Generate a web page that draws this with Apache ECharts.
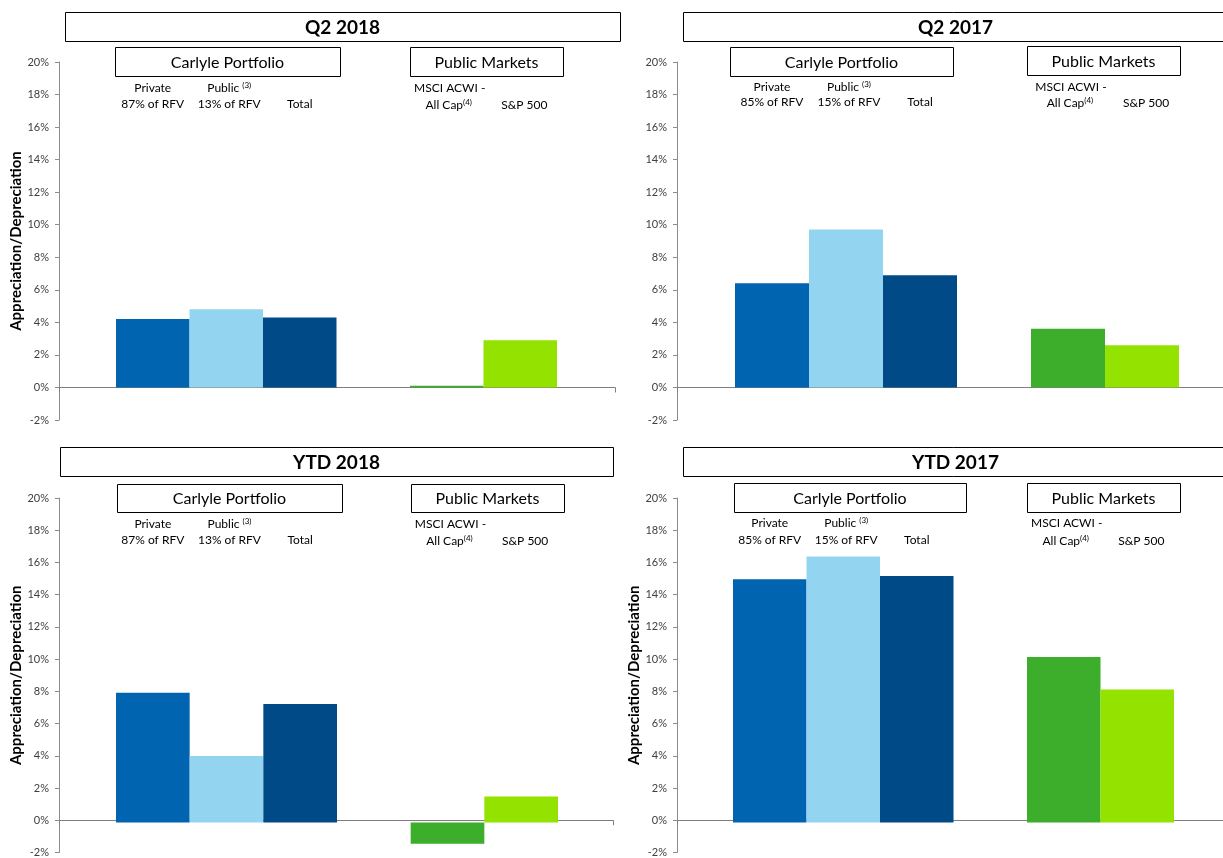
<!DOCTYPE html>
<html>
<head>
<meta charset="utf-8">
<script src="https://cdn.jsdelivr.net/npm/echarts@6/dist/echarts.min.js"></script>
<style>
  html, body { margin: 0; padding: 0; background: #fff; }
  #chart { width: 1223px; height: 858px; }
</style>
</head>
<body>
<div id="chart"></div>
<script>
// 类目（第4格为两组之间的空档）
const categories = ['Private', 'Public', 'Total', '', 'MSCI ACWI - All Cap', 'S&P 500']
// 各面板数值（%）
const q2_2018 = [4.2, 4.8, 4.3, null, 0.1, 2.9]
const q2_2017 = [6.4, 9.7, 6.9, null, 3.6, 2.6]
const ytd_2018 = [8.0, 4.1, 7.3, null, -1.3, 1.6]
const ytd_2017 = [15.0, 16.4, 15.2, null, 10.2, 8.2]
// y 轴范围
const yMin = -2
const yMax = 20
const yStep = 2

const barColors = ['#0064B0', '#93D5F1', '#004B87', '#ffffff', '#3DAE2B', '#94E200']
const FONT = 'Lato'

// 面板布局
const panels = [
  {
    title: 'Q2 2018', data: q2_2018, rfv: ['87% of RFV', '13% of RFV'], yName: true,
    axisL: 59, axisR: 615, top: 62, bottom: 420, barsL: 116, barsR: 557,
    titleBox: [65, 12, 555, 29], carlyleBox: [115, 47, 225, 29], publicBox: [410, 47, 153, 29],
    line1: 88, line2: 104
  },
  {
    title: 'Q2 2017', data: q2_2017, rfv: ['85% of RFV', '15% of RFV'], yName: false,
    axisL: 677, axisR: 1223, top: 62, bottom: 420, barsL: 735, barsR: 1179,
    titleBox: [683, 12, 545, 29], carlyleBox: [730, 47, 223, 29], publicBox: [1027, 46, 153, 29],
    line1: 87, line2: 102
  },
  {
    title: 'YTD 2018', data: ytd_2018, rfv: ['87% of RFV', '13% of RFV'], yName: true,
    axisL: 59, axisR: 613, top: 498, bottom: 855, barsL: 116, barsR: 558,
    titleBox: [60, 447, 553, 29], carlyleBox: [117, 484, 225, 28], publicBox: [411, 484, 153, 28],
    line1: 524, line2: 540
  },
  {
    title: 'YTD 2017', data: ytd_2017, rfv: ['85% of RFV', '15% of RFV'], yName: true,
    axisL: 677, axisR: 1223, top: 498, bottom: 855, barsL: 733, barsR: 1174,
    titleBox: [683, 447, 545, 29], carlyleBox: [734, 483, 232, 29], publicBox: [1027, 483, 153, 29],
    line1: 523, line2: 540
  }
]

const W = 1223
const H = 858
const grid = []
const xAxis = []
const yAxis = []
const series = []
const graphic = []

function boxRect(b) {
  return {
    type: 'rect',
    shape: { x: b[0] + 0.5, y: b[1] + 0.5, width: b[2], height: b[3] },
    style: { fill: 'none', stroke: '#000', lineWidth: 1 },
    silent: true
  }
}

function boxText(b, text, size, bold) {
  return {
    type: 'text',
    x: b[0] + b[2] / 2,
    y: b[1] + b[3] / 2 + 1,
    style: {
      text: text, fontSize: size, fontWeight: bold ? 'bold' : 'normal', fontFamily: FONT,
      fill: '#000', align: 'center', verticalAlign: 'middle'
    },
    silent: true
  }
}

function colText(x, y, text) {
  return {
    type: 'text',
    x: x,
    y: y,
    style: {
      text: text, fontSize: 12, fontFamily: FONT, fill: '#000',
      align: 'center', verticalAlign: 'middle',
      rich: { s: { fontSize: 8, fontFamily: FONT, fill: '#000', verticalAlign: 'top', padding: [0, 0, 6, 0] } }
    },
    silent: true
  }
}

panels.forEach((p, i) => {
  const gA = i * 2
  const gB = i * 2 + 1
  // 坐标轴网格
  grid.push({ left: p.axisL, width: p.axisR - p.axisL, top: p.top, height: p.bottom - p.top })
  // 柱形网格
  grid.push({ left: p.barsL, width: p.barsR - p.barsL, top: p.top, height: p.bottom - p.top })

  xAxis.push({
    type: 'category', gridIndex: gA, data: [''],
    axisLine: { onZero: true, lineStyle: { color: '#7f7f7f', width: 1 } },
    axisTick: { show: true, length: 5, lineStyle: { color: '#7f7f7f' } },
    axisLabel: { show: false }
  })
  xAxis.push({
    type: 'category', gridIndex: gB, data: categories, show: false
  })

  yAxis.push({
    type: 'value', gridIndex: gA, min: yMin, max: yMax, interval: yStep,
    name: p.yName ? 'Appreciation/Depreciation' : '',
    nameLocation: 'middle', nameRotate: 90, nameGap: 34,
    nameTextStyle: { fontSize: 15, fontWeight: 'bold', fontFamily: FONT, color: '#000' },
    axisLine: { show: true, lineStyle: { color: '#8c8c8c' } },
    axisTick: { show: true, length: 4, lineStyle: { color: '#8c8c8c' } },
    axisLabel: { formatter: '{value}%', fontSize: 11, fontFamily: FONT, color: '#404040', margin: 10 },
    splitLine: { show: false }
  })
  yAxis.push({
    type: 'value', gridIndex: gB, min: yMin, max: yMax, interval: yStep, show: false,
    splitLine: { show: false }
  })

  series.push({
    type: 'bar', xAxisIndex: gB, yAxisIndex: gB,
    barCategoryGap: '0%',
    data: p.data.map((v, k) => ({ value: v, itemStyle: { color: barColors[k] } })),
    silent: true
  })

  graphic.push(boxRect(p.titleBox), boxText(p.titleBox, p.title, 19, true))
  graphic.push(boxRect(p.carlyleBox), boxText(p.carlyleBox, 'Carlyle Portfolio', 16, false))
  graphic.push(boxRect(p.publicBox), boxText(p.publicBox, 'Public Markets', 16, false))

  const slot = (p.barsR - p.barsL) / categories.length
  const cx = k => p.barsL + slot * (k + 0.5)
  graphic.push(colText(cx(0), p.line1, 'Private'))
  graphic.push(colText(cx(0), p.line2, p.rfv[0]))
  graphic.push(colText(cx(1) + 3, p.line1, 'Public {s|(3)}'))
  graphic.push(colText(cx(1) + 3, p.line2, p.rfv[1]))
  graphic.push(colText(cx(2), p.line2, 'Total'))
  graphic.push(colText(cx(4) + 3, p.line1, 'MSCI ACWI -'))
  graphic.push(colText(cx(4) + 2, p.line2 + 1, 'All Cap{s|(4)}'))
  graphic.push(colText(cx(5) + 4, p.line2 + 1, 'S&P 500'))
})

const myChart = echarts.init(document.getElementById('chart'), null, { renderer: 'canvas', width: W, height: H })
myChart.setOption({
  animation: false,
  backgroundColor: '#fff',
  grid: grid,
  xAxis: xAxis,
  yAxis: yAxis,
  series: series,
  graphic: graphic
})
</script>
</body>
</html>
